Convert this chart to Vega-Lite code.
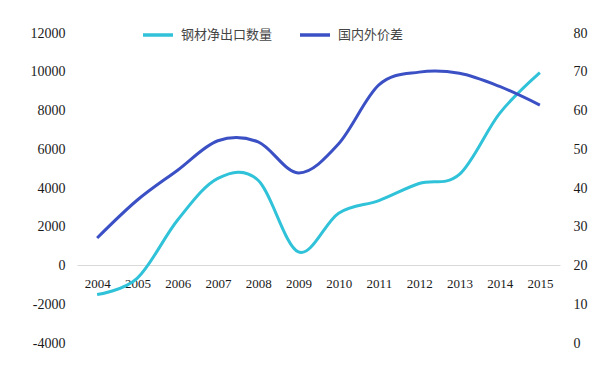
{
  "$schema": "https://vega.github.io/schema/vega-lite/v6.json",
  "width": 483,
  "height": 310,
  "autosize": "none",
  "padding": {"left": 77, "top": 33, "right": 40, "bottom": 22},
  "background": "white",
  "config": {
    "view": {"stroke": null},
    "axis": {"labelFont": "Liberation Serif", "labelFontSize": 13, "labelColor": "#1a1a1a", "grid": false, "ticks": false, "domain": false, "title": null},
    "legend": {"labelFont": "Noto Sans CJK SC", "labelFontSize": 13, "labelColor": "#444"}
  },
  "datasets": {
    "export": [
      {"year": "2004", "series": "钢材净出口数量", "value": -1500},
      {"year": "2005", "series": "钢材净出口数量", "value": -650},
      {"year": "2006", "series": "钢材净出口数量", "value": 2350},
      {"year": "2007", "series": "钢材净出口数量", "value": 4500},
      {"year": "2008", "series": "钢材净出口数量", "value": 4400},
      {"year": "2009", "series": "钢材净出口数量", "value": 700},
      {"year": "2010", "series": "钢材净出口数量", "value": 2700},
      {"year": "2011", "series": "钢材净出口数量", "value": 3350},
      {"year": "2012", "series": "钢材净出口数量", "value": 4230},
      {"year": "2013", "series": "钢材净出口数量", "value": 4700},
      {"year": "2014", "series": "钢材净出口数量", "value": 7850},
      {"year": "2015", "series": "钢材净出口数量", "value": 9960}
    ],
    "gap": [
      {"year": "2004", "series": "国内外价差", "value": 27.1},
      {"year": "2005", "series": "国内外价差", "value": 36.9},
      {"year": "2006", "series": "国内外价差", "value": 44.6},
      {"year": "2007", "series": "国内外价差", "value": 52.2},
      {"year": "2008", "series": "国内外价差", "value": 51.9},
      {"year": "2009", "series": "国内外价差", "value": 43.9},
      {"year": "2010", "series": "国内外价差", "value": 51.4},
      {"year": "2011", "series": "国内外价差", "value": 66.6},
      {"year": "2012", "series": "国内外价差", "value": 69.9},
      {"year": "2013", "series": "国内外价差", "value": 69.6},
      {"year": "2014", "series": "国内外价差", "value": 66.2},
      {"year": "2015", "series": "国内外价差", "value": 61.4}
    ]
  },
  "encoding": {
    "x": {
      "field": "year",
      "type": "ordinal",
      "scale": {"type": "point", "padding": 0.5},
      "axis": {"orient": "bottom", "offset": -78, "labelPadding": 12, "labelAngle": 0, "domain": true, "domainColor": "#d9d9d9", "domainWidth": 1}
    },
    "color": {
      "field": "series",
      "type": "nominal",
      "scale": {"domain": ["钢材净出口数量", "国内外价差"], "range": ["#2fc2d8", "#3a50c4"]},
      "legend": {"title": null, "orient": "none", "direction": "horizontal", "legendX": 64, "legendY": -15, "symbolType": "stroke", "symbolSize": 900, "symbolStrokeWidth": 3.5, "columnPadding": 20, "labelOffset": 6}
    }
  },
  "layer": [
    {
      "data": {"name": "export"},
      "mark": {"type": "line", "interpolate": "cardinal", "strokeWidth": 3},
      "encoding": {
        "y": {"field": "value", "type": "quantitative", "scale": {"domain": [-4000, 12000], "nice": false}, "axis": {"orient": "left", "labelExpr": "'' + datum.value", "labelFontSize": 14, "values": [-4000, -2000, 0, 2000, 4000, 6000, 8000, 10000, 12000], "labelPadding": 12}}
      }
    },
    {
      "data": {"name": "gap"},
      "mark": {"type": "line", "interpolate": "cardinal", "strokeWidth": 3},
      "encoding": {
        "y": {"field": "value", "type": "quantitative", "scale": {"domain": [0, 80], "nice": false}, "axis": {"orient": "right", "labelExpr": "'' + datum.value", "labelFontSize": 14, "values": [0, 10, 20, 30, 40, 50, 60, 70, 80], "labelPadding": 13}}
      }
    }
  ],
  "resolve": {"scale": {"y": "independent"}}
}
